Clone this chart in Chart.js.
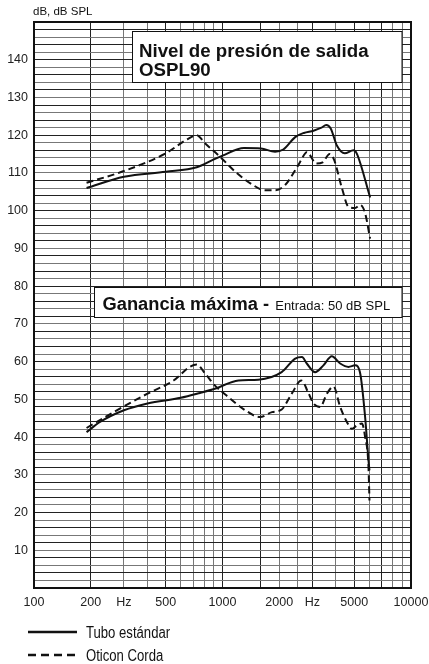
<!DOCTYPE html>
<html>
<head>
<meta charset="utf-8">
<script src="https://cdn.jsdelivr.net/npm/chart.js@4"></script>
<style>
  html, body { margin: 0; padding: 0; background: #fff; }
  #wrap { width: 429px; height: 664px; position: relative; }
</style>
</head>
<body>
<div id="wrap"><canvas id="chart" width="429" height="664"></canvas></div>
<script>
/* DATA */
const osplTuboHz  = [190, 300, 500, 730, 900, 1000, 1300, 1600, 1900, 2100, 2430, 2700, 3040, 3350, 3550, 3750, 4050, 4450, 4950, 5150, 6070];
const osplTuboDb  = [106.0, 109.0, 110.3, 111.5, 113.6, 114.6, 116.6, 116.5, 115.6, 116.2, 119.5, 120.6, 121.2, 122.0, 122.7, 121.8, 117.2, 115.2, 116.0, 115.2, 103.5];

const osplCordaHz = [190, 300, 500, 650, 730, 810, 970, 1170, 1430, 1680, 1900, 2150, 2430, 2580, 2800, 3150, 3400, 3700, 3900, 4300, 4660, 5050, 5380, 5710, 6070];
const osplCordaDb = [107.4, 110.5, 115.2, 118.9, 120.0, 117.8, 114.3, 110.3, 107.0, 105.4, 105.4, 106.8, 110.7, 112.9, 115.5, 112.5, 112.8, 115.0, 113.6, 106.0, 101.0, 100.7, 101.5, 99.3, 92.6];

const gainTuboHz  = [190, 224, 300, 400, 600, 760, 910, 1215, 1550, 2060, 2430, 2640, 2800, 3100, 3430, 3800, 4210, 4660, 5050, 5380, 5710, 5950, 6020];
const gainTuboDb  = [41.3, 44.0, 47.1, 48.9, 50.4, 51.7, 52.8, 55.0, 55.2, 57.2, 60.8, 61.2, 59.5, 57.2, 59.0, 61.4, 59.5, 58.6, 59.0, 56.8, 45.3, 33.8, 31.2];

const gainCordaHz = [190, 264, 400, 550, 670, 730, 810, 910, 1075, 1320, 1580, 1830, 2060, 2330, 2620, 2850, 3040, 3300, 3580, 3880, 4210, 4570, 4860, 5160, 5490, 5710, 5950, 6020];
const gainCordaDb = [42.4, 46.6, 51.5, 55.0, 58.6, 59.2, 56.8, 53.7, 50.6, 47.1, 45.3, 46.6, 47.3, 51.5, 55.0, 51.8, 48.9, 48.0, 51.5, 53.4, 48.0, 44.0, 42.2, 43.1, 43.6, 40.0, 32.0, 23.2];

/* axis ticks */
const xGridHz     = [100, 200, 300, 400, 500, 600, 700, 800, 900, 1000, 1600, 2000, 2500, 3000, 4000, 5000, 6000, 7000, 8000, 9000, 10000];
const xLabelHz    = [100, 200, 300, 500, 1000, 2000, 3000, 5000, 10000];
const xLabelText  = ['100', '200', 'Hz', '500', '1000', '2000', 'Hz', '5000', '10000'];
const yLabels     = [10, 20, 30, 40, 50, 60, 70, 80, 90, 100, 110, 120, 130, 140];

const seriesNames = ['Tubo estándar', 'Oticon Corda'];
const yAxisTitle  = 'dB, dB SPL';
const osplTitle   = ['Nivel de presión de salida', 'OSPL90'];
const gainTitle   = 'Ganancia máxima - ';
const gainSub     = 'Entrada: 50 dB SPL';

const SANS = "'Liberation Sans', Arial, sans-serif";

const pts = (hz, db) => hz.map((f, i) => ({ x: f, y: db[i] }));

function lineSet(label, hz, db, dashed) {
  return {
    label,
    data: pts(hz, db),
    borderColor: '#111',
    borderWidth: 2,
    borderDash: dashed ? [7, 4] : [],
    pointRadius: 0,
    fill: false,
    cubicInterpolationMode: 'monotone'
  };
}

// condensed text (no narrow face installed)
function narrowText(ctx, txt, x, y, sx) {
  ctx.save();
  ctx.translate(x, y);
  ctx.scale(sx, 1);
  ctx.fillText(txt, 0, 0);
  ctx.restore();
}

/* boxes, frame, legend, axis title */
const decor = {
  id: 'decor',
  afterDraw(chart) {
    const { ctx, chartArea: a } = chart;
    ctx.save();
    // frame
    ctx.strokeStyle = '#111';
    ctx.lineWidth = 2;
    ctx.strokeRect(a.left, a.top, a.right - a.left, a.bottom - a.top);

    // OSPL90 box
    ctx.lineWidth = 1;
    ctx.fillStyle = '#fff';
    ctx.fillRect(132, 31.5, 270, 51);
    ctx.strokeRect(132.5, 31.5, 269.5, 51);
    ctx.fillStyle = '#111';
    ctx.font = "bold 18.7px " + SANS;
    ctx.textBaseline = 'alphabetic';
    ctx.textAlign = 'left';
    ctx.fillText(osplTitle[0], 139, 56.5);
    ctx.fillText(osplTitle[1], 139, 76);

    // gain box
    ctx.fillStyle = '#fff';
    ctx.fillRect(94, 287.5, 308, 30);
    ctx.strokeRect(94.5, 287.5, 307.5, 30);
    ctx.fillStyle = '#111';
    ctx.font = "bold 18.3px " + SANS;
    ctx.fillText(gainTitle, 102.5, 310);
    const w = ctx.measureText(gainTitle).width;
    ctx.font = "13px " + SANS;
    ctx.fillText(gainSub, 102.5 + w + 1, 310);

    // y axis title
    ctx.font = "11.5px " + SANS;
    ctx.fillText(yAxisTitle, 33, 15);

    // legend
    ctx.lineWidth = 2.5;
    ctx.beginPath(); ctx.moveTo(28, 632); ctx.lineTo(77, 632); ctx.stroke();
    ctx.setLineDash([8, 5]);
    ctx.beginPath(); ctx.moveTo(28, 655); ctx.lineTo(80, 655); ctx.stroke();
    ctx.setLineDash([]);
    ctx.font = "16px " + SANS;
    narrowText(ctx, seriesNames[0], 86, 637.5, 0.82);
    narrowText(ctx, seriesNames[1], 86, 660.5, 0.82);
    ctx.restore();
  }
};

new Chart(document.getElementById('chart'), {
  type: 'line',
  data: {
    datasets: [
      lineSet(seriesNames[0], osplTuboHz, osplTuboDb, false),
      lineSet(seriesNames[1], osplCordaHz, osplCordaDb, true),
      lineSet(seriesNames[0] + ' (ganancia)', gainTuboHz, gainTuboDb, false),
      lineSet(seriesNames[1] + ' (ganancia)', gainCordaHz, gainCordaDb, true)
    ]
  },
  options: {
    responsive: false,
    animation: false,
    layout: { padding: { top: 22, right: 18, left: 0, bottom: 0 } },
    plugins: { legend: { display: false }, tooltip: { enabled: false } },
    scales: {
      x: {
        type: 'logarithmic',
        min: 100,
        max: 10000,
        afterBuildTicks: s => { s.ticks = xGridHz.map(v => ({ value: v })); },
        afterFit: s => { s.height = 76; s.paddingLeft = 0; s.paddingRight = 0; },
        grid: {
          drawTicks: false,
          color: ctx => [100, 200, 500, 1000, 1600, 3000, 5000, 7000, 10000].includes(ctx.tick && ctx.tick.value) ? '#222' : '#777',
          lineWidth: 1
        },
        border: { display: false },
        ticks: {
          autoSkip: false,
          maxRotation: 0,
          padding: 7,
          color: '#222',
          font: { family: SANS, size: 12.5 },
          callback: v => {
            const i = xLabelHz.indexOf(v);
            return i >= 0 ? xLabelText[i] : '';
          }
        }
      },
      y: {
        min: 0,
        max: 150,
        afterBuildTicks: s => {
          const t = [];
          for (let v = 0; v <= 150; v += 2) t.push({ value: v });
          s.ticks = t;
        },
        afterFit: s => { s.width = 34; s.paddingTop = 0; s.paddingBottom = 0; },
        grid: {
          drawTicks: false,
          color: ctx => (ctx.tick && ctx.tick.value % 4 === 0) ? '#222' : '#777',
          lineWidth: 1
        },
        border: { display: false },
        ticks: {
          autoSkip: false,
          padding: 6,
          color: '#222',
          font: { family: SANS, size: 12.5 },
          callback: v => yLabels.includes(v) ? String(v) : ''
        }
      }
    }
  },
  plugins: [decor]
});
</script>
</body>
</html>
